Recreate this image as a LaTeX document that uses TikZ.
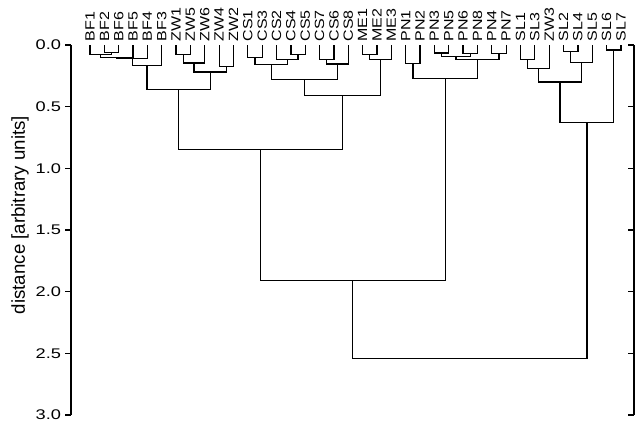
\documentclass[tikz,border=0pt]{standalone}
\usepackage{fontspec}
\setmainfont{Liberation Sans}
\usetikzlibrary{calc}
\tikzset{
  link/.style={line width=0.95pt},
  axisline/.style={line width=1.1pt},
  leaflabel/.style={rotate=90,anchor=west,inner sep=2.5pt,font=\fontsize{10}{11}\selectfont},
  ticklabel/.style={anchor=east,inner xsep=2.5pt,inner ysep=0pt,font=\fontsize{10.5}{11}\selectfont}
}
\newcommand{\wide}[1]{\scalebox{1.2}[1]{#1}}

\begin{document}
\begin{tikzpicture}[x=0.75pt,y=-0.75pt]
  \useasboundingbox (0,0) rectangle (640,421);
  % leaves, left to right
  \foreach \n [count=\i from 0] in {BF1,BF2,BF6,BF5,BF4,BF3,ZW1,ZW5,ZW6,ZW4,ZW2,CS1,CS3,CS2,CS4,CS5,CS7,CS6,CS8,ME1,ME2,ME3,PN1,PN2,PN3,PN5,PN6,PN8,PN4,PN7,SL1,SL3,ZW3,SL2,SL4,SL5,SL6,SL7}{
    \node[leaflabel] (\n) at ({90+14.35*\i},45) {\wide{\n}};
  }
  % joins: child/child/cluster/distance
  \foreach \a/\b/\m/\h in {BF2/BF6/bfa/0.06,BF1/bfa/bfb/0.075,bfb/BF5/bfc/0.10,bfc/BF4/bfd/0.11,bfd/BF3/bf/0.165,
      ZW1/ZW5/zwa/0.08,zwa/ZW6/zwb/0.145,ZW4/ZW2/zwc/0.175,zwb/zwc/zw/0.22,bf/zw/bfzw/0.36,
      CS1/CS3/csa/0.10,CS4/CS5/csb/0.08,CS2/csb/csc/0.12,csa/csc/csd/0.16,CS7/CS6/cse/0.12,cse/CS8/csf/0.155,csd/csf/cs/0.28,
      ME1/ME2/mea/0.08,mea/ME3/me/0.12,cs/me/csme/0.41,bfzw/csme/lft/0.85,
      PN1/PN2/pna/0.15,PN3/PN5/pnb/0.065,PN6/PN8/pnc/0.07,pnb/pnc/pnd/0.095,PN4/PN7/pne/0.07,pnd/pne/pnf/0.12,pna/pnf/pn/0.27,lft/pn/mid/1.91,
      SL1/SL3/sla/0.12,sla/ZW3/slb/0.19,SL2/SL4/slc/0.055,slc/SL5/sld/0.14,slb/sld/sle/0.30,SL6/SL7/slf/0.04,sle/slf/sl/0.63,
      mid/sl/root/2.54}{
    \pgfmathsetmacro\yy{45+123.3*\h}
    \coordinate (c) at ($(\a)!.5!(\b)$);
    \coordinate (\m) at (c |- 0,\yy);
    \draw[link] (\a) |- (\m) -| (\b);
  }
  % left axis
  \coordinate (ax0) at (71,45);
  \coordinate (ax3) at (71,415);
  \draw[axisline] (ax0) -- (ax3);
  \foreach \v [count=\k] in {0.0,0.5,1.0,1.5,2.0,2.5,3.0}{
    \draw[axisline] (71,{45+123.3*\v}) -- ++(-6,0) node[ticklabel] (tk\k) {\scalebox{1.3}[1]{\v}};
  }
  \node[rotate=90,font=\fontsize{14}{16}\selectfont] (ytitle) at (20,215) {distance [arbitrary units]};
  % edge of the next panel
  \coordinate (rx0) at (634,45);
  \coordinate (rx3) at (634,415);
  \draw[axisline] (rx0) -- (rx3);
  \foreach \v in {0.0,0.5,1.0,1.5,2.0,2.5,3.0}{
    \draw[axisline] (634,{45+123.3*\v}) -- ++(-6,0);
  }
\end{tikzpicture}
\end{document}
